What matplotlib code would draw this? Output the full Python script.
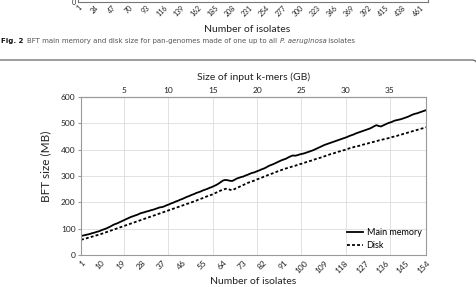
import numpy as np
import matplotlib
matplotlib.use("Agg")
import matplotlib.pyplot as plt
from matplotlib.patches import FancyBboxPatch
from matplotlib.transforms import IdentityTransform

plt.rcParams['font.family'] = ['Lato', 'DejaVu Sans']

# Data
isolates = np.arange(1, 155)
main_memory = [
    72, 74, 76, 78, 80, 83, 85, 88, 90, 94,
    97, 100, 104, 108, 113, 117, 120, 124, 128, 132,
    136, 140, 144, 147, 150, 153, 157, 160, 162, 165,
    167, 170, 172, 175, 178, 181, 182, 185, 189, 192,
    196, 199, 203, 206, 210, 213, 217, 221, 224, 228,
    231, 235, 238, 241, 245, 248, 251, 255, 258, 262,
    266, 271, 277, 283, 285, 284, 282, 281, 285, 290,
    293, 296, 298, 302, 305, 309, 312, 314, 318, 321,
    325, 328, 332, 337, 341, 344, 348, 352, 356, 360,
    363, 366, 371, 375, 378, 377, 379, 382, 384, 386,
    389, 392, 395, 398, 402, 406, 410, 414, 418, 421,
    424, 427, 430, 433, 436, 439, 442, 445, 448, 452,
    455, 458, 462, 465, 468, 471, 474, 477, 480, 484,
    489, 493, 490, 488, 492, 496, 500, 503, 506, 510,
    512, 514, 516, 519, 522, 525, 529, 533, 536, 538,
    541, 544, 547, 550,
]
disk = [
    58, 60, 62, 65, 67, 70, 72, 75, 77, 80,
    83, 86, 89, 92, 95, 98, 101, 104, 107, 110,
    113, 116, 119, 122, 125, 128, 131, 134, 137, 140,
    143, 146, 149, 152, 155, 158, 161, 164, 167, 170,
    173, 176, 179, 182, 185, 188, 191, 194, 197, 200,
    203, 206, 210, 213, 216, 220, 223, 226, 229, 233,
    237, 241, 245, 248, 251, 252, 248, 246, 250, 254,
    258, 262, 266, 270, 274, 277, 280, 283, 287, 290,
    293, 297, 300, 304, 307, 310, 313, 317, 320, 323,
    326, 329, 331, 334, 337, 339, 342, 345, 347, 350,
    353, 356, 358, 361, 364, 367, 369, 372, 375, 378,
    381, 384, 386, 389, 392, 394, 397, 399, 402, 405,
    407, 410, 412, 414, 416, 419, 421, 423, 426, 428,
    430, 432, 435, 437, 439, 441, 443, 445, 448, 450,
    452, 455, 457, 460, 462, 465, 467, 470, 472, 475,
    477, 480, 482, 485,
]
x_ticks = list(range(1, 155, 9))
gb_ticks = [5, 10, 15, 20, 25, 30, 35]
y_ticks = [0, 100, 200, 300, 400, 500, 600]
prev_ticks = list(range(1, 462, 23))

# isolates -> GB of input k-mers
gb_per_isolate = 0.2545
gb_offset = -0.124


def to_gb(n):
    return gb_per_isolate * np.asarray(n) + gb_offset


def to_iso(g):
    return (np.asarray(g) - gb_offset) / gb_per_isolate


W, H = 476, 287
fig = plt.figure(figsize=(W / 100, H / 100), dpi=100)


def fx(px):
    return px / W


def fy(py):
    return 1 - py / H


text_col = '#222222'
spine_col = '#9a9a9a'

# --- tail of the previous figure (Fig. 2) ---
ax0 = fig.add_axes([fx(78), fy(2), fx(350), 0.5])
ax0.set_xlim(1, 472)
ax0.set_ylim(0, 600)
ax0.set_xticks(prev_ticks)
ax0.set_xticklabels([str(t) for t in prev_ticks], rotation=45, ha='right',
                    rotation_mode='anchor', fontsize=5, color=text_col)
ax0.set_yticks([0])
ax0.tick_params(length=0, labelsize=5, pad=1.5, labelcolor=text_col)
for s in ax0.spines.values():
    s.set_color('#777777')
    s.set_linewidth(0.8)
fig.text(fx(247), fy(29), 'Number of isolates', fontsize=7.5, ha='center',
         va='center', color=text_col)

fig.canvas.draw()
renderer = fig.canvas.get_renderer()
t1 = fig.text(fx(1), fy(41), 'Fig. 2', fontsize=5, weight='bold',
              va='center', color='#111111', family='DejaVu Sans')
bb = t1.get_window_extent(renderer)
t2 = fig.text(fx(bb.x1 + 4), fy(41),
              'BFT main memory and disk size for pan-genomes made of one up to all ',
              fontsize=5, va='center', color='#555555', family='DejaVu Sans')
bb = t2.get_window_extent(renderer)
t3 = fig.text(fx(bb.x1), fy(41), 'P. aeruginosa', fontsize=5, style='italic',
              va='center', color='#555555', family='DejaVu Sans')
bb = t3.get_window_extent(renderer)
fig.text(fx(bb.x1), fy(41), ' isolates', fontsize=5, va='center',
         color='#555555', family='DejaVu Sans')

# frame of the next figure (only its top edge and corner are in view)
box = FancyBboxPatch((-20, -40), W + 21, H - 60 + 40,
                     boxstyle='round,pad=0,rounding_size=5',
                     transform=IdentityTransform(), fc='none',
                     ec='#666666', lw=0.9)
fig.add_artist(box)

# --- main chart ---
ax = fig.add_axes([fx(81), fy(255), fx(345), (255 - 97) / H])
for g in gb_ticks:
    ax.axvline(to_iso(g), color='#dddddd', lw=0.6, zorder=0)
ax.grid(axis='y', color='#dddddd', lw=0.6)
ax.set_axisbelow(True)

ax.plot(isolates, main_memory, color='black', lw=1.3, label='Main memory')
ax.plot(isolates, disk, color='black', lw=1.3, ls=(0, (1.6, 1.2)), label='Disk')

ax.set_xlim(1, 154)
ax.set_ylim(0, 600)
ax.set_yticks(y_ticks)
ax.set_xticks(x_ticks)
ax.set_xticklabels([str(t) for t in x_ticks], rotation=45, ha='right',
                   rotation_mode='anchor', fontsize=6, color=text_col)
ax.tick_params(axis='x', length=0, pad=3)
ax.tick_params(axis='y', length=2, labelsize=6, labelcolor=text_col,
               color=spine_col, pad=2)
for s in ax.spines.values():
    s.set_color(spine_col)
    s.set_linewidth(0.8)

ax.set_ylabel('BFT size (MB)', fontsize=8.5, color=text_col)
ax.yaxis.set_label_coords(-0.087, 0.56)
ax.set_xlabel('Number of isolates', fontsize=7.5, color=text_col, labelpad=2)

secax = ax.secondary_xaxis('top', functions=(to_gb, to_iso))
secax.set_xticks(gb_ticks)
secax.tick_params(length=0, labelsize=6, labelcolor=text_col, pad=2)
secax.spines['top'].set_color(spine_col)
secax.set_xlabel('Size of input k-mers (GB)', fontsize=7.5, color=text_col,
                 labelpad=5)

ax.legend(loc='lower right', frameon=False, fontsize=6.5, handlelength=1.8,
          borderaxespad=0.1, labelspacing=0.45, handletextpad=0.4)

fig.savefig('out.png', dpi=100)
